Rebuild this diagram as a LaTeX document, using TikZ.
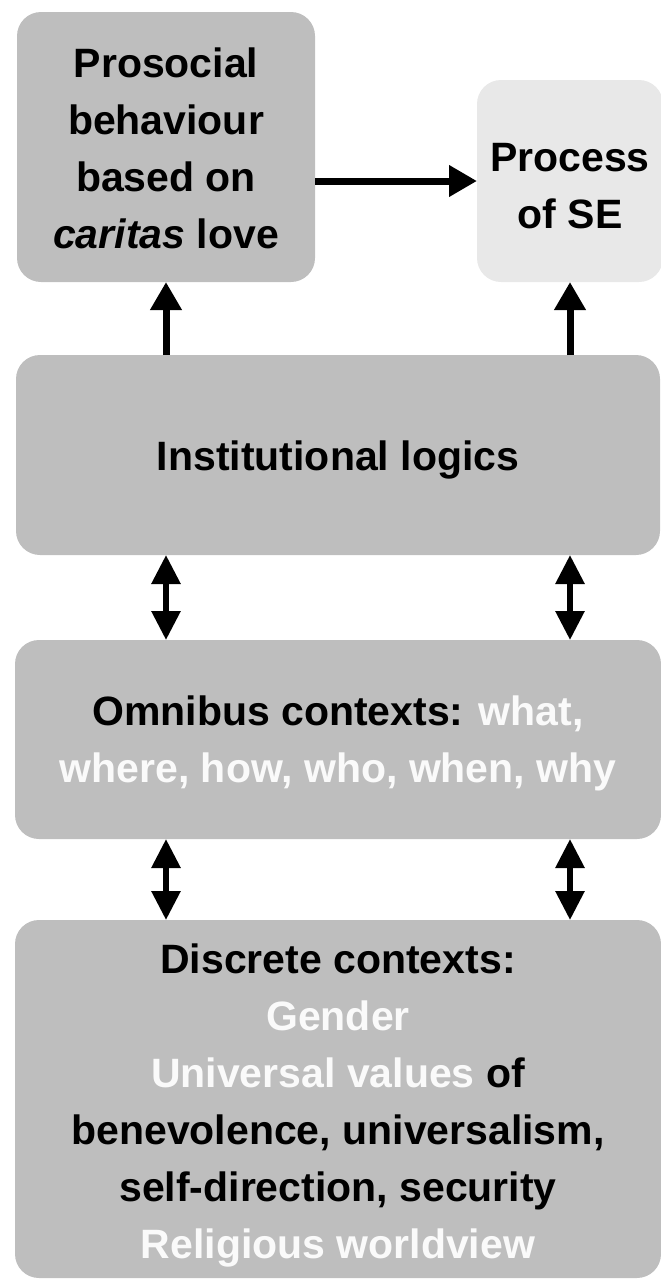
\documentclass[tikz,border=0pt]{standalone}
\usepackage{fontspec}
\setmainfont{Liberation Sans}
\usetikzlibrary{arrows.meta}
\definecolor{boxgray}{RGB}{190,190,190}
\definecolor{boxlight}{RGB}{232,232,232}
\definecolor{softwhite}{RGB}{250,250,250}
\tikzset{
  panel/.style={rectangle, rounded corners=24pt, fill=boxgray, draw=none,
    inner sep=0pt, outer sep=0pt, align=center,
    font=\fontsize{41}{57}\selectfont\bfseries},
  lightpanel/.style={panel, fill=boxlight},
  uparrow/.style={line width=7pt, -{Triangle[length=28pt,width=30pt]}},
  twoway/.style={line width=6pt, {Triangle[length=29pt,width=28pt]}-{Triangle[length=29pt,width=28pt]}}
}
\newcommand{\wtext}[1]{\textcolor{softwhite}{#1}}
% invisible strut that raises the first line's top, nudging a text block downwards
\newcommand{\firstline}[1]{\rule{0pt}{#1}}
\begin{document}
\begin{tikzpicture}
\useasboundingbox (0pt,0pt) rectangle (661pt,-1282pt);

% upper row
\node[panel, minimum width=298pt, minimum height=270pt] (pros) at (166pt,-147pt)
  {\firstline{33pt}Prosocial\\behaviour\\based on\\\textit{caritas} love};
\node[lightpanel, minimum width=186pt, minimum height=202pt] (proc) at (570pt,-181pt)
  {\firstline{39pt}Process\\of SE};

% stacked context layers
\node[panel, minimum width=644pt, minimum height=200pt] (inst) at (338pt,-455pt)
  {\firstline{39pt}Institutional logics};
\node[panel, minimum width=646pt, minimum height=199pt] (omni) at (338pt,-739.5pt)
  {\firstline{37pt}Omnibus contexts: \wtext{what,}\\\wtext{where, how, who, when, why}};
\node[panel, minimum width=646pt, minimum height=358pt] (disc) at (338pt,-1099pt)
  {\firstline{42pt}Discrete contexts:\\\wtext{Gender}\\\wtext{Universal values} of\\benevolence, universalism,\\self-direction, security\\\wtext{Religious worldview}};

% connectors
\draw[uparrow] (pros.east |- proc.west) -- (proc.west);
\draw[uparrow] (pros.south |- inst.north) -- (pros.south);
\draw[uparrow] (proc.south |- inst.north) -- (proc.south);
\draw[twoway] (pros.south |- inst.south) -- (pros.south |- omni.north);
\draw[twoway] (proc.south |- inst.south) -- (proc.south |- omni.north);
\draw[twoway] (pros.south |- omni.south) -- (pros.south |- disc.north);
\draw[twoway] (proc.south |- omni.south) -- (proc.south |- disc.north);
\end{tikzpicture}
\end{document}
